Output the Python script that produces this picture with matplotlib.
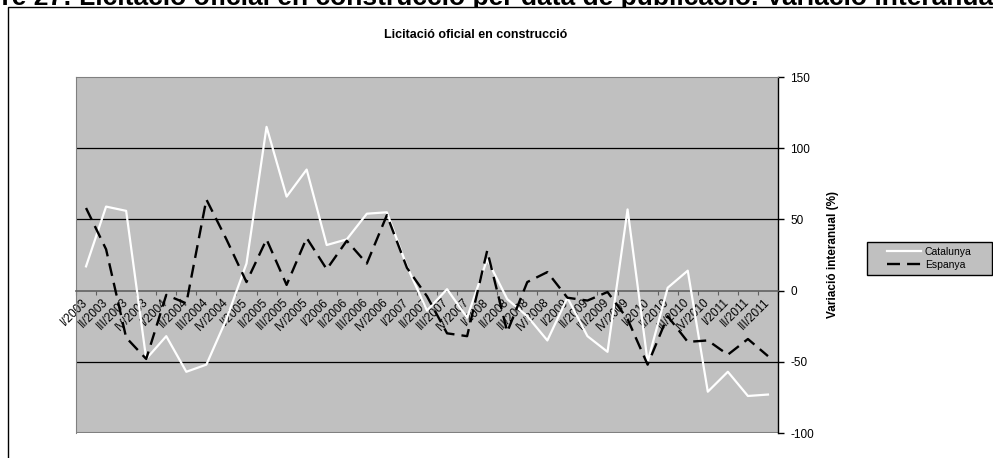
import matplotlib
matplotlib.use('Agg')
import matplotlib.pyplot as plt
from matplotlib.patches import Rectangle
import numpy as np

plt.rcParams['font.family'] = ['Liberation Sans', 'DejaVu Sans']
plt.rcParams['axes.unicode_minus'] = False

# quarters I/2003 .. III/2011
quarters = ['I', 'II', 'III', 'IV']
labels = [f'{q}/{y}' for y in range(2003, 2012) for q in quarters][:35]

catalunya = [17, 59, 56, -48, -32, -57, -52, -20, 19, 115, 66, 85, 32, 36, 54, 55,
             17, -14, 1, -19, 22, -6, -18, -35, -5, -32, -43, 57, -50, 2, 14, -71,
             -57, -74, -73]
espanya = [58, 29, -33, -48, -3, -9, 64, 36, 6, 36, 4, 37, 15, 35, 19, 53,
           16, -4, -30, -32, 28, -29, 6, 13, -5, -7, -1, -20, -52, -18, -36, -35,
           -45, -34, -46]
yticks = [-100, -50, 0, 50, 100, 150]

W, H = 993, 458
fig = plt.figure(figsize=(W / 100, H / 100), dpi=100)

# heading of the page, mostly cut off at the top
fig.text(-66 / W, 1 - 5 / H,
         'Quadre 27: Licitació oficial en construcció per data de publicació. Variació interanual',
         fontsize=19, fontweight='bold', ha='left', va='baseline', zorder=0)

# white chart area with black border
fig.patches.append(Rectangle((8 / W, -0.1), 1.2, (H - 7) / H + 0.1, transform=fig.transFigure,
                             facecolor='white', edgecolor='black', lw=1, zorder=1))

ax = fig.add_axes([76 / W, 1 - 433 / H, (778 - 76) / W, (433 - 77) / H])
ax.set_zorder(2)
ax.set_facecolor('#c0c0c0')

x = np.arange(len(labels))
ax.plot(x, catalunya, color='white', lw=1.6, label='Catalunya', zorder=3)
ax.plot(x, espanya, color='black', lw=1.7, dashes=(5.5, 3), label='Espanya', zorder=4)

ax.set_xlim(-0.5, len(labels) - 0.5)
ax.set_ylim(-100, 150)

for v in [100, 50, -50]:
    ax.axhline(v, color='black', lw=0.9, zorder=1)

# y axis on the right
ax.yaxis.tick_right()
ax.set_yticks(yticks)
ax.tick_params(axis='y', length=4, width=1, pad=5, labelsize=8.5, color='black')
ax.spines['right'].set_color('black')
ax.spines['right'].set_linewidth(1)
for s in ['left', 'top']:
    ax.spines[s].set_color('#808080')
ax.axhline(-100, color='#808080', lw=1.5, zorder=1)

# category axis crossing at 0
ax.spines['bottom'].set_position(('data', 0))
ax.spines['bottom'].set_color('#606060')
ax.spines['bottom'].set_linewidth(1.2)
ax.set_xticks(np.arange(len(labels) + 1) - 0.5)
ax.set_xticklabels([])
ax.tick_params(axis='x', which='major', length=3, color='#606060')
ax.set_xticks(x, labels, minor=True, rotation=45, ha='right', va='center',
              rotation_mode='anchor', fontsize=8.5)
ax.tick_params(axis='x', which='minor', length=0, pad=7)

fig.text(476 / W, 1 - 35 / H, 'Licitació oficial en construcció', fontsize=9,
         fontweight='bold', ha='center', va='center', zorder=3)
fig.text(833 / W, 1 - 255 / H, 'Variació interanual (%)', fontsize=8.5,
         fontweight='bold', rotation=90, ha='center', va='center', zorder=3)

# legend box
fig.patches.append(Rectangle((867 / W, 1 - 275 / H), 125 / W, 33 / H, transform=fig.transFigure,
                             facecolor='#c0c0c0', edgecolor='black', lw=1, zorder=3))
handles, names = ax.get_legend_handles_labels()
leg = fig.legend(handles, names, loc='center left', bbox_to_anchor=(880 / W, 1 - 258.5 / H),
                 frameon=False, fontsize=7.5, handlelength=3.2, handletextpad=0.4,
                 labelspacing=0.3, borderpad=0.2)
leg.set_zorder(4)

fig.savefig('out.png', dpi=100)
